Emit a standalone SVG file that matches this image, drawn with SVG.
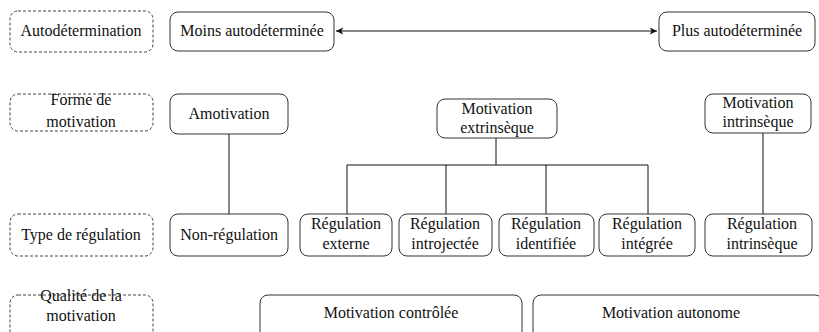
<svg xmlns="http://www.w3.org/2000/svg" width="819" height="332" viewBox="0 0 819 332">
<style>
text{font-family:"Liberation Serif","Times New Roman",serif;font-size:16px;fill:#111;text-anchor:middle}
.b{fill:#fff;stroke:#333;stroke-width:1}
.d{fill:#fff;stroke:#444;stroke-width:1;stroke-dasharray:3,2}
.c{fill:none;stroke:#111;stroke-width:1}
</style>
<defs>
<marker id="ah" viewBox="0 0 10 10" refX="9" refY="5" markerWidth="9" markerHeight="9" orient="auto-start-reverse" markerUnits="userSpaceOnUse">
<path d="M1,1 L9,5 L1,9 L3,5 Z" fill="#111"/>
</marker>
</defs>
<rect width="819" height="332" fill="#fff"/>
<g id="connectors">
<line class="c" x1="336" y1="31" x2="657" y2="31" stroke-width="1.5" marker-start="url(#ah)" marker-end="url(#ah)"/>
<line class="c" x1="229" y1="134" x2="229" y2="214"/>
<line class="c" x1="496" y1="138" x2="496" y2="165"/>
<polyline class="c" points="347,214 347,165 648,165 648,214"/>
<line class="c" x1="446" y1="165" x2="446" y2="214"/>
<line class="c" x1="546" y1="165" x2="546" y2="214"/>
<line class="c" x1="763" y1="133" x2="763" y2="214"/>
</g>
<g id="lbl-autodetermination"><rect class="d" x="10" y="11" width="143" height="41" rx="8"/><text x="81" y="36">Autodétermination</text></g>
<g id="moins"><rect class="b" x="170" y="12" width="164" height="39" rx="8"/><text x="252" y="36">Moins autodéterminée</text></g>
<g id="plus"><rect class="b" x="659" y="12" width="156" height="39" rx="8"/><text x="737" y="36">Plus autodéterminée</text></g>
<g id="lbl-forme"><rect class="d" x="10" y="94" width="143" height="37" rx="8"/><text x="81" y="105">Forme de</text><text x="81" y="127">motivation</text></g>
<g id="amotivation"><rect class="b" x="170" y="94" width="118" height="40" rx="8"/><text x="229" y="119">Amotivation</text></g>
<g id="extrinseque"><rect class="b" x="437" y="99" width="120" height="39" rx="8"/><text x="497" y="114">Motivation</text><text x="497" y="133">extrinsèque</text></g>
<g id="intrinseque"><rect class="b" x="705" y="94" width="106" height="39" rx="8"/><text x="758" y="108">Motivation</text><text x="758" y="127">intrinsèque</text></g>
<g id="lbl-type"><rect class="d" x="10" y="214" width="143" height="42" rx="8"/><text x="81" y="240">Type de régulation</text></g>
<g id="non-regulation"><rect class="b" x="170" y="214" width="118" height="42" rx="8"/><text x="229" y="240">Non-régulation</text></g>
<g id="reg-externe"><rect class="b" x="300" y="214" width="92" height="42" rx="8"/><text x="346" y="229">Régulation</text><text x="346" y="249">externe</text></g>
<g id="reg-introjectee"><rect class="b" x="399" y="214" width="93" height="42" rx="8"/><text x="445" y="229">Régulation</text><text x="445" y="249">introjectée</text></g>
<g id="reg-identifiee"><rect class="b" x="499" y="214" width="95" height="42" rx="8"/><text x="546" y="229">Régulation</text><text x="546" y="249">identifiée</text></g>
<g id="reg-integree"><rect class="b" x="599" y="214" width="96" height="42" rx="8"/><text x="647" y="229">Régulation</text><text x="647" y="249">intégrée</text></g>
<g id="reg-intrinseque"><rect class="b" x="705" y="214" width="107" height="42" rx="8"/><text x="762" y="229">Régulation</text><text x="762" y="249">intrinsèque</text></g>
<g id="lbl-qualite"><rect class="d" x="10" y="295" width="143" height="45" rx="8"/><text x="81" y="301">Qualité de la</text><text x="81" y="321">motivation</text></g>
<g id="controlee"><rect class="b" x="260" y="295" width="262" height="45" rx="8"/><text x="391" y="318">Motivation contrôlée</text></g>
<g id="autonome"><rect class="b" x="533" y="295" width="290" height="45" rx="8"/><text x="671" y="318">Motivation autonome</text></g>
</svg>
